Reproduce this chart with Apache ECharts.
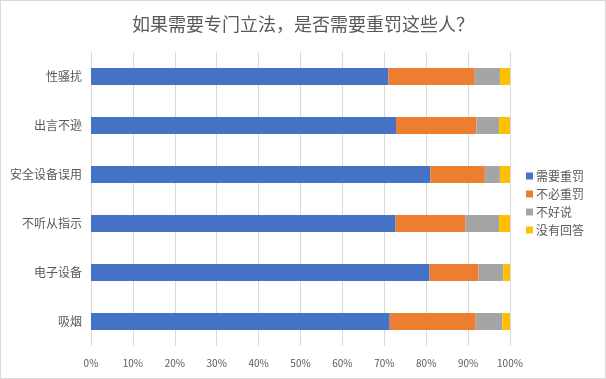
<!DOCTYPE html>
<html><head><meta charset="utf-8">
<script src="https://cdn.jsdelivr.net/npm/echarts@6/dist/echarts.min.js"></script>
<style>html,body{margin:0;padding:0;background:#fff}#c{width:604px;height:377px;border:1px solid #d9d9d9}</style>
</head><body><div id="c"></div>
<script>
var categories = ['性骚扰', '出言不逊', '安全设备误用', '不听从指示', '电子设备', '吸烟'];
var seriesNames = ['需要重罚', '不必重罚', '不好说', '没有回答'];
var needHeavy = [71.0, 72.8, 81.0, 72.7, 80.8, 71.3];
var noNeed = [20.6, 19.2, 13.0, 16.7, 11.7, 20.5];
var unsure = [6.0, 5.4, 3.6, 8.0, 5.9, 6.4];
var noAnswer = [2.4, 2.6, 2.4, 2.6, 1.6, 1.8];
var xTicks = [0, 10, 20, 30, 40, 50, 60, 70, 80, 90, 100];
var colors = ['#4472C4', '#ED7D31', '#A5A5A5', '#FFC000'];
var values = [needHeavy, noNeed, unsure, noAnswer];
var font = '"Noto Sans CJK SC", "Microsoft YaHei", sans-serif';
var chart = echarts.init(document.getElementById('c'));
chart.setOption({
  animation: false,
  textStyle: {fontFamily: font},
  title: {text: '如果需要专门立法，是否需要重罚这些人？', left: 'center', top: 9,
    textStyle: {fontSize: 18, fontWeight: 'normal', color: '#595959', fontFamily: font}},
  legend: {orient: 'vertical', left: 520, top: 164, itemWidth: 7, itemHeight: 7, itemGap: 6,
    icon: 'rect', textStyle: {fontSize: 12, color: '#595959', padding: [0,0,0,-2]},
    data: seriesNames},
  grid: {left: 90, right: 95, top: 51, bottom: 32, containLabel: false},
  xAxis: {type: 'value', min: 0, max: 100, interval: 10,
    axisLabel: {formatter: function(v){return xTicks.indexOf(v) >= 0 ? v + '%' : '';}, color: '#595959', fontSize: 10, margin: 12},
    splitLine: {lineStyle: {color: '#d9d9d9'}},
    axisLine: {show: false}, axisTick: {show: false}},
  yAxis: {type: 'category', inverse: true, data: categories,
    axisLabel: {color: '#595959', fontSize: 12, margin: 9},
    axisLine: {lineStyle: {color: '#d9d9d9'}}, axisTick: {show: false}},
  series: seriesNames.map(function(n, i){
    return {name: n, type: 'bar', stack: 'total', data: values[i], barWidth: 17,
      itemStyle: {color: colors[i]}};
  })
});
</script></body></html>
